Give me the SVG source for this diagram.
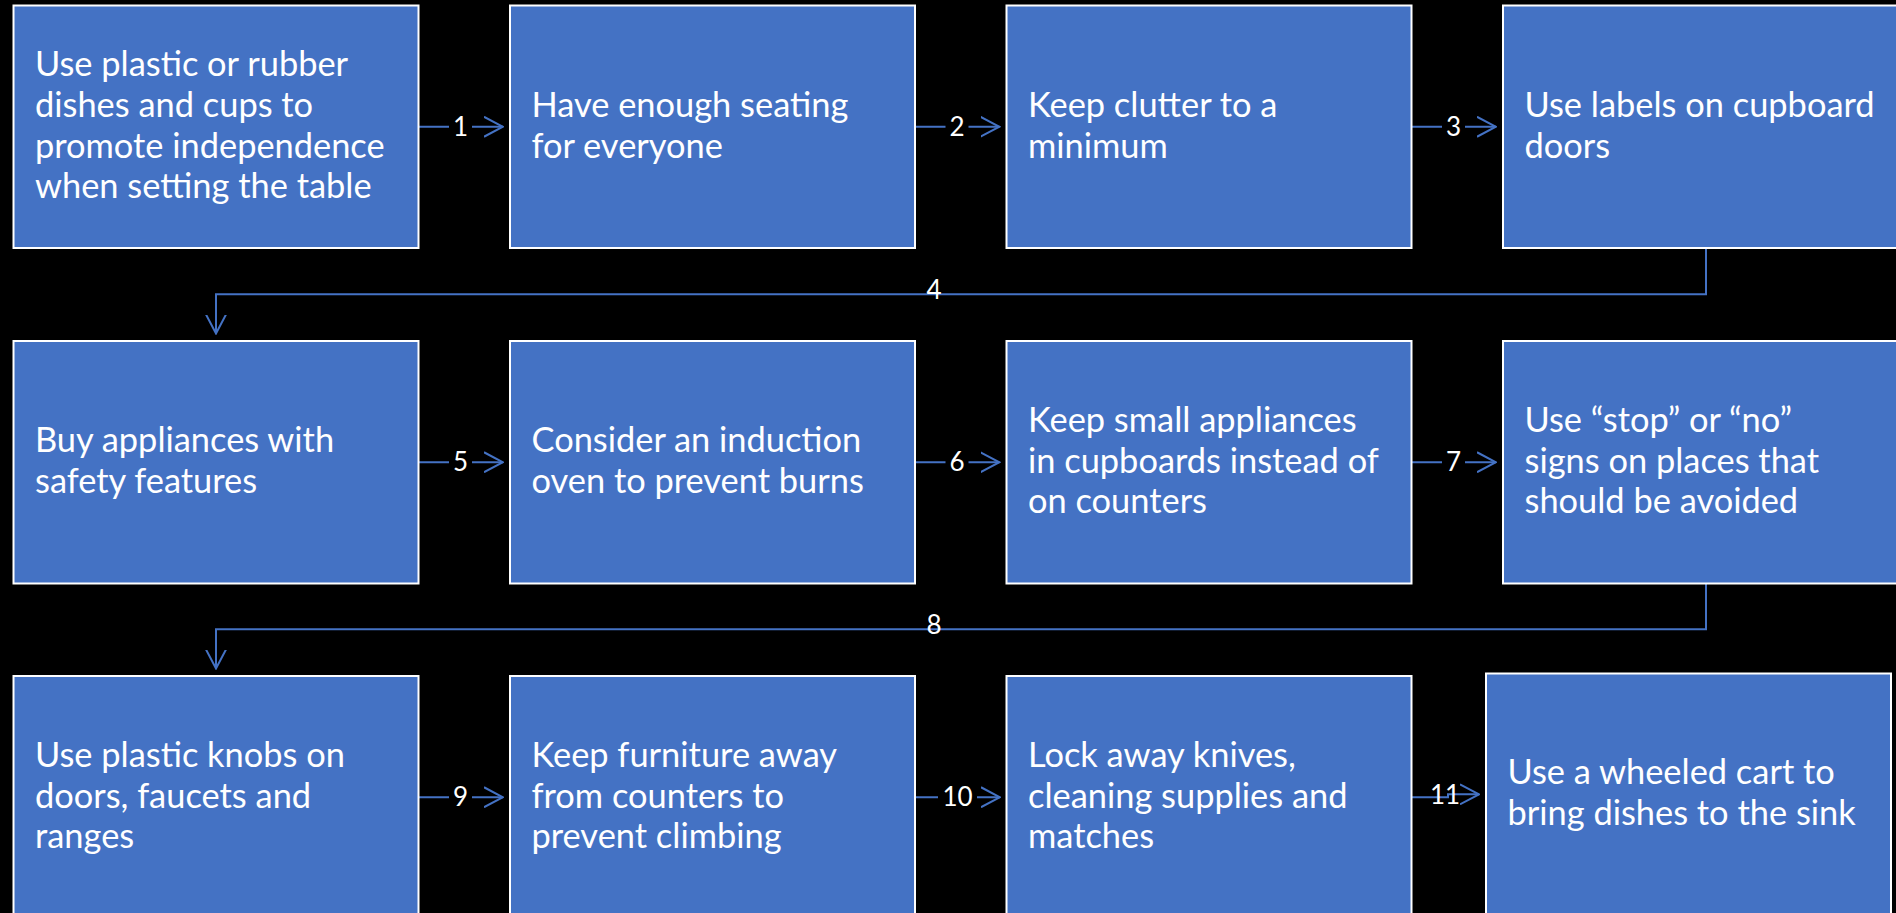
<svg xmlns="http://www.w3.org/2000/svg" width="1896" height="913" viewBox="0 0 1896 913">
  <style>
    .box { fill: #4472C4; stroke: #FFFFFF; stroke-width: 2; }
    .txt { fill: #FFFFFF; font-family: Lato, "Liberation Sans", sans-serif; font-size: 34.4px; }
    .lbl { fill: #FFFFFF; font-family: Lato, "Liberation Sans", sans-serif; font-size: 26px; text-anchor: middle; }
    .conn { fill: none; stroke: #4472C4; stroke-width: 2; }
  </style>
  <defs>
    <marker id="arrow" viewBox="0 0 20 22" refX="19" refY="11" markerWidth="20" markerHeight="22" markerUnits="userSpaceOnUse" orient="auto">
      <path d="M0,1 L19,11 L0,21" fill="none" stroke="#4472C4" stroke-width="2"/>
    </marker>
  </defs>
  <rect width="1896" height="913" fill="#000000"/>

  <!-- connectors -->
  <g id="connectors">
    <!-- row 1 -->
    <path class="conn" d="M419,126.75 H449"/>
    <path class="conn" d="M472,126.75 H503" marker-end="url(#arrow)"/>
    <text class="lbl" x="460.5" y="135.5">1</text>
    <path class="conn" d="M915,126.75 H945.5"/>
    <path class="conn" d="M968.5,126.75 H999.5" marker-end="url(#arrow)"/>
    <text class="lbl" x="957" y="135.5">2</text>
    <path class="conn" d="M1411.5,126.75 H1442"/>
    <path class="conn" d="M1465,126.75 H1496" marker-end="url(#arrow)"/>
    <text class="lbl" x="1453.5" y="135.5">3</text>
    <!-- row 1 to row 2 -->
    <path class="conn" d="M1706,248 V294.3 H216 V333.5" marker-end="url(#arrow)"/>
    <text class="lbl" x="934" y="299">4</text>
    <!-- row 2 -->
    <path class="conn" d="M419,462.25 H449"/>
    <path class="conn" d="M472,462.25 H503" marker-end="url(#arrow)"/>
    <text class="lbl" x="460.5" y="471">5</text>
    <path class="conn" d="M915,462.25 H945.5"/>
    <path class="conn" d="M968.5,462.25 H999.5" marker-end="url(#arrow)"/>
    <text class="lbl" x="957" y="471">6</text>
    <path class="conn" d="M1411.5,462.25 H1442"/>
    <path class="conn" d="M1465,462.25 H1496" marker-end="url(#arrow)"/>
    <text class="lbl" x="1453.5" y="471">7</text>
    <!-- row 2 to row 3 -->
    <path class="conn" d="M1706,583.5 V629.3 H216 V668.5" marker-end="url(#arrow)"/>
    <text class="lbl" x="934" y="634">8</text>
    <!-- row 3 -->
    <path class="conn" d="M419,797.25 H449"/>
    <path class="conn" d="M472,797.25 H503" marker-end="url(#arrow)"/>
    <text class="lbl" x="460.5" y="806">9</text>
    <path class="conn" d="M915,797.25 H938"/>
    <path class="conn" d="M977,797.25 H1000" marker-end="url(#arrow)"/>
    <text class="lbl" x="957.5" y="806">10</text>
    <path class="conn" d="M1412,797.25 H1448 V794.3 H1479" marker-end="url(#arrow)"/>
    <text class="lbl" x="1445" y="803.5">11</text>
  </g>

  <!-- row 1 -->
  <g id="node-1">
    <rect class="box" x="13.5" y="5.5" width="405" height="242.5"/>
    <text class="txt"><tspan x="35" y="76.2">Use plastic or rubber</tspan><tspan x="35" y="116.9">dishes and cups to</tspan><tspan x="35" y="157.6">promote independence</tspan><tspan x="35" y="198.3">when setting the table</tspan></text>
  </g>
  <g id="node-2">
    <rect class="box" x="510" y="5.5" width="405" height="242.5"/>
    <text class="txt"><tspan x="531.5" y="116.9">Have enough seating</tspan><tspan x="531.5" y="157.6">for everyone</tspan></text>
  </g>
  <g id="node-3">
    <rect class="box" x="1006.5" y="5.5" width="405" height="242.5"/>
    <text class="txt"><tspan x="1028" y="116.9">Keep clutter to a</tspan><tspan x="1028" y="157.6">minimum</tspan></text>
  </g>
  <g id="node-4">
    <rect class="box" x="1503" y="5.5" width="405" height="242.5"/>
    <text class="txt"><tspan x="1524.5" y="116.9">Use labels on cupboard</tspan><tspan x="1524.5" y="157.6">doors</tspan></text>
  </g>

  <!-- row 2 -->
  <g id="node-5">
    <rect class="box" x="13.5" y="341" width="405" height="242.5"/>
    <text class="txt"><tspan x="35" y="452.4">Buy appliances with</tspan><tspan x="35" y="493.1">safety features</tspan></text>
  </g>
  <g id="node-6">
    <rect class="box" x="510" y="341" width="405" height="242.5"/>
    <text class="txt"><tspan x="531.5" y="452.4">Consider an induction</tspan><tspan x="531.5" y="493.1">oven to prevent burns</tspan></text>
  </g>
  <g id="node-7">
    <rect class="box" x="1006.5" y="341" width="405" height="242.5"/>
    <text class="txt"><tspan x="1028" y="432.05">Keep small appliances</tspan><tspan x="1028" y="472.75">in cupboards instead of</tspan><tspan x="1028" y="513.45">on counters</tspan></text>
  </g>
  <g id="node-8">
    <rect class="box" x="1503" y="341" width="405" height="242.5"/>
    <text class="txt"><tspan x="1524.5" y="432.05">Use “stop” or “no”</tspan><tspan x="1524.5" y="472.75">signs on places that</tspan><tspan x="1524.5" y="513.45">should be avoided</tspan></text>
  </g>

  <!-- row 3 -->
  <g id="node-9">
    <rect class="box" x="13.5" y="676" width="405" height="242.5"/>
    <text class="txt"><tspan x="35" y="767.05">Use plastic knobs on</tspan><tspan x="35" y="807.75">doors, faucets and</tspan><tspan x="35" y="848.45">ranges</tspan></text>
  </g>
  <g id="node-10">
    <rect class="box" x="510" y="676" width="405" height="242.5"/>
    <text class="txt"><tspan x="531.5" y="767.05">Keep furniture away</tspan><tspan x="531.5" y="807.75">from counters to</tspan><tspan x="531.5" y="848.45">prevent climbing</tspan></text>
  </g>
  <g id="node-11">
    <rect class="box" x="1006.5" y="676" width="405" height="242.5"/>
    <text class="txt"><tspan x="1028" y="767.05">Lock away knives,</tspan><tspan x="1028" y="807.75">cleaning supplies and</tspan><tspan x="1028" y="848.45">matches</tspan></text>
  </g>
  <g id="node-12">
    <rect class="box" x="1486" y="673.5" width="405" height="242"/>
    <text class="txt"><tspan x="1507.5" y="784.4">Use a wheeled cart to</tspan><tspan x="1507.5" y="825.1">bring dishes to the sink</tspan></text>
  </g>
</svg>
